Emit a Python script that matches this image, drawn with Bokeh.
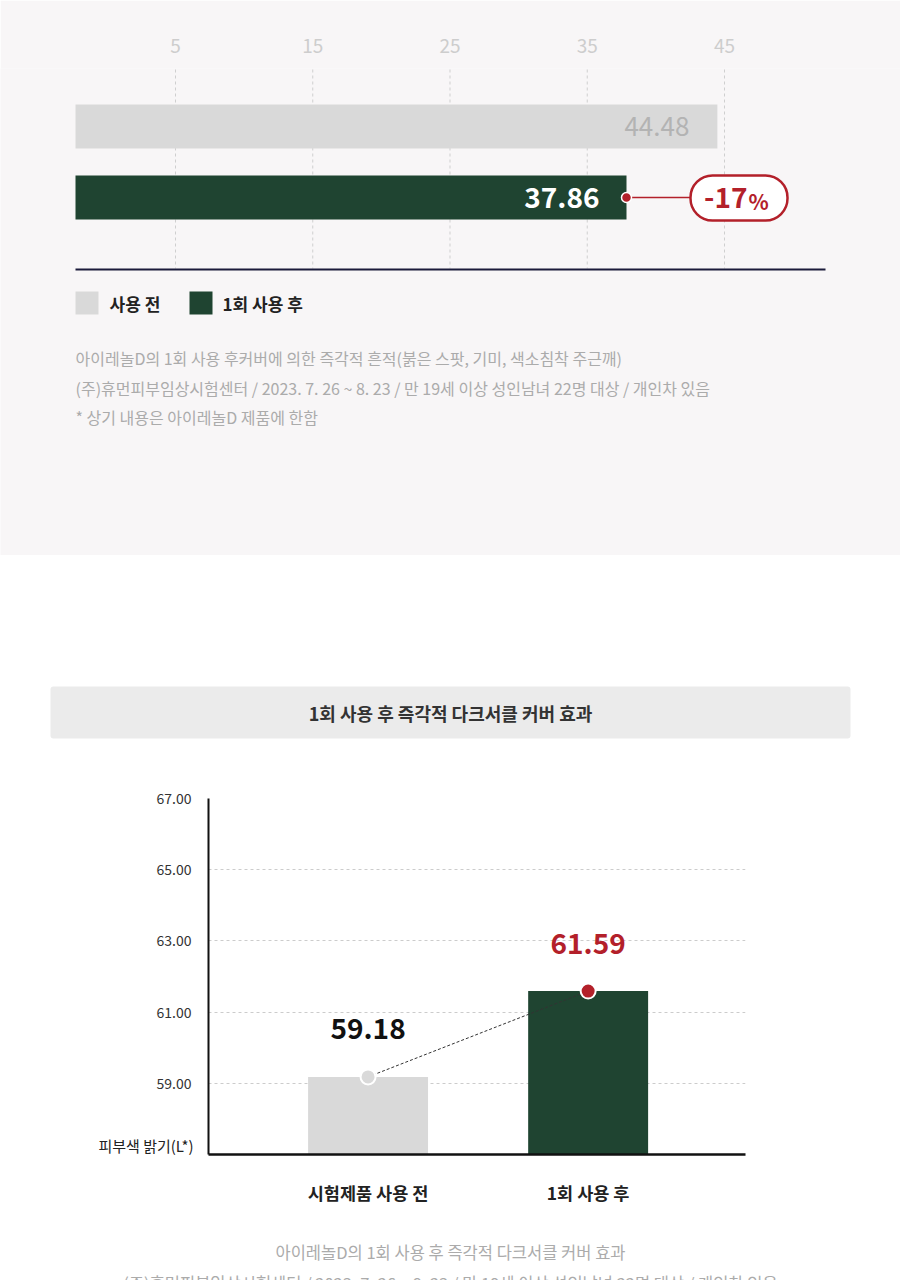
from bokeh.plotting import figure
from bokeh.models import (Range1d, LinearAxis, FixedTicker, LinearScale,
                          NumeralTickFormatter, ColumnDataSource, Label)
from bokeh.core.properties import value
from bokeh.embed import file_html
from bokeh.resources import INLINE

FONT = "Noto Sans CJK KR"

# ---------------- data: top chart ----------------
top_categories = ["사용 전", "1회 사용 후"]
top_values = [44.48, 37.86]
top_value_labels = ["44.48", "37.86"]
top_ticks = [5, 15, 25, 35, 45]
change_label = "-17"
change_unit = "%"
top_notes = [
    "아이레놀D의 1회 사용 후커버에 의한 즉각적 흔적(붉은 스팟, 기미, 색소침착 주근깨)",
    "(주)휴먼피부임상시험센터 / 2023. 7. 26 ~ 8. 23 / 만 19세 이상 성인남녀 22명 대상 / 개인차 있음",
    "* 상기 내용은 아이레놀D 제품에 한함",
]

# ---------------- data: bottom chart ----------------
bottom_title = "1회 사용 후 즉각적 다크서클 커버 효과"
bottom_categories = ["시험제품 사용 전", "1회 사용 후"]
bottom_values = [59.18, 61.59]
bottom_value_labels = ["59.18", "61.59"]
bottom_ticks = [59, 61, 63, 65, 67]
bottom_axis_title = "피부색 밝기(L*)"
bottom_notes = [
    "아이레놀D의 1회 사용 후 즉각적 다크서클 커버 효과",
    "(주)휴먼피부임상시험센터 / 2023. 7. 26 ~ 8. 23 / 만 19세 이상 성인남녀 22명 대상 / 개인차 있음",
]

# ---------------- styles ----------------
GRAY_BAR = "#d9d9d9"
GREEN = "#1f4431"
RED = "#b3202a"
TOP_BG = "#f8f6f7"
NOTE = "#ababab"

W = 900


def plain_fig(y_top, y_bot, bg="white"):
    """A full-frame figure whose data coordinates equal page pixels."""
    f = figure(width=W, height=y_bot - y_top,
               x_range=Range1d(0, W), y_range=Range1d(y_bot, y_top),
               output_backend="svg", toolbar_location=None,
               min_border=0, x_axis_location=None, y_axis_location=None)
    f.background_fill_color = bg
    f.border_fill_color = bg
    f.outline_line_color = None
    f.xgrid.visible = False
    f.ygrid.visible = False
    return f


# ================= Figure A (top section) =================
A_H = 555
A_TOP = 68
PX_FIRST, PX_LAST = 175, 724
ppu = (PX_LAST - PX_FIRST) / (top_ticks[-1] - top_ticks[0])


def px_to_val(px):
    return top_ticks[0] + (px - PX_FIRST) / ppu


pa = figure(width=W, height=A_H,
            x_range=Range1d(px_to_val(0), px_to_val(W)),
            y_range=Range1d(A_H, A_TOP),
            output_backend="svg", toolbar_location=None,
            min_border_left=0, min_border_right=0, min_border_bottom=0,
            min_border_top=A_TOP,
            x_axis_location=None, y_axis_location=None)
pa.extra_x_ranges = {"px": Range1d(0, W)}
pa.extra_x_scales = {"px": LinearScale()}
pa.background_fill_color = TOP_BG
pa.border_fill_color = TOP_BG
pa.outline_line_color = None
pa.xgrid.visible = False
pa.ygrid.visible = False

ax = LinearAxis(ticker=FixedTicker(ticks=top_ticks))
ax.axis_line_color = None
ax.major_tick_line_color = None
ax.minor_tick_line_color = None
ax.major_label_text_color = "#cdcdcd"
ax.major_label_text_font = FONT
ax.major_label_text_font_size = "19px"
ax.major_label_standoff = 10
pa.add_layout(ax, "above")

pa.segment(x0=top_ticks, y0=[A_TOP + 1] * len(top_ticks),
           x1=top_ticks, y1=[268] * len(top_ticks),
           line_color="#cfcfcf", line_width=1, line_dash="3 3")

row_y = [126, 197]
bar_colors = [GRAY_BAR, GREEN]
src_a = ColumnDataSource(dict(cat=top_categories, val=top_values,
                              lab=top_value_labels, y=row_y, color=bar_colors))
pa.hbar(y="y", left=px_to_val(75), right="val", height=44,
        fill_color="color", line_color=None, source=src_a)

pa.text(x=[top_values[0]], y=[row_y[0]], text=[top_value_labels[0]],
        x_offset=-28, text_align="right", text_baseline="middle",
        text_font=value(FONT), text_font_size="26px", text_color="#b3b3b3")
pa.text(x=[top_values[1]], y=[row_y[1]], text=[top_value_labels[1]],
        x_offset=-27, text_align="right", text_baseline="middle",
        text_font=value(FONT), text_font_size="28px", text_font_style="bold",
        text_color="white")

pa.segment(x0=[top_values[1]], y0=[row_y[1]], x1=[px_to_val(690)], y1=[row_y[1]],
           line_color=RED, line_width=1.5)
pa.scatter(x=[top_values[1]], y=[row_y[1]], size=10, fill_color=RED,
           line_color="white", line_width=1.5)
pa.quad(left=[690], right=[787], top=[175], bottom=[220], x_range_name="px",
        fill_color="white", line_color=RED, line_width=2.5, border_radius=22)
pa.text(x=[747], y=[197], text=[change_label], x_range_name="px",
        text_align="right", text_baseline="middle",
        text_font=value(FONT), text_font_size="28px", text_font_style="bold",
        text_color=RED)
pa.text(x=[748], y=[200], text=[change_unit], x_range_name="px",
        text_align="left", text_baseline="middle",
        text_font=value(FONT), text_font_size="21px", text_font_style="bold",
        text_color=RED)

pa.segment(x0=[75], y0=[269], x1=[825], y1=[269], x_range_name="px",
           line_color="#1b1b3b", line_width=2)

pa.quad(left=[75, 189], right=[98, 212], top=[291, 291], bottom=[314, 314],
        x_range_name="px", fill_color=bar_colors, line_color=None)
pa.text(x=[109, 222], y=[303, 303], text=top_categories, x_range_name="px",
        text_align="left", text_baseline="middle",
        text_font=value(FONT), text_font_size="17px", text_font_style="bold",
        text_color="#222222")

pa.text(x=[75] * len(top_notes), y=[357, 387, 416], text=top_notes,
        x_range_name="px", text_align="left", text_baseline="middle",
        text_font=value(FONT), text_font_size="16px", text_color=NOTE)

# ================= Figure B1 (title box) =================
B1_TOP, B1_BOT = 555, 780
pt = plain_fig(B1_TOP, B1_BOT)
pt.quad(left=[50], right=[850], top=[686], bottom=[738],
        fill_color="#ebebeb", line_color=None, border_radius=3)
pt.text(x=[450], y=[712], text=[bottom_title], text_align="center",
        text_baseline="middle", text_font=value(FONT), text_font_size="18px",
        text_font_style="bold", text_color="#333333")

# ================= Figure B2 (bar chart) =================
B2_TOP, B2_BOT = B1_BOT, 1215
F_TOP, F_BOT = 798, 1154
F_LEFT, F_RIGHT = 208, 745
cat_pos = list(range(len(bottom_categories)))

pb = figure(width=W, height=B2_BOT - B2_TOP,
            x_range=Range1d(-0.725, 1.715),
            y_range=Range1d(57, 67),
            output_backend="svg", toolbar_location=None,
            min_border_left=F_LEFT, min_border_right=W - F_RIGHT,
            min_border_top=F_TOP - B2_TOP, min_border_bottom=B2_BOT - F_BOT)
pb.extra_x_ranges = {"px": Range1d(F_LEFT, F_RIGHT)}
pb.extra_x_scales = {"px": LinearScale()}
pb.extra_y_ranges = {"py": Range1d(F_BOT, F_TOP)}
pb.extra_y_scales = {"py": LinearScale()}
pb.background_fill_color = "white"
pb.border_fill_color = "white"
pb.outline_line_color = None

pb.yaxis.ticker = FixedTicker(ticks=bottom_ticks)
pb.yaxis.formatter = NumeralTickFormatter(format="0.00")
pb.yaxis.major_tick_line_color = None
pb.yaxis.minor_tick_line_color = None
pb.yaxis.axis_line_color = "#111111"
pb.yaxis.axis_line_width = 2
pb.yaxis.major_label_text_font = FONT
pb.yaxis.major_label_text_font_size = "14px"
pb.yaxis.major_label_text_color = "#333333"
pb.yaxis.major_label_standoff = 11

pb.xaxis.ticker = FixedTicker(ticks=cat_pos)
pb.xaxis.major_label_overrides = {i: c for i, c in zip(cat_pos, bottom_categories)}
pb.xaxis.major_tick_line_color = None
pb.xaxis.minor_tick_line_color = None
pb.xaxis.axis_line_color = "#111111"
pb.xaxis.axis_line_width = 2.5
pb.xaxis.major_label_text_font = FONT
pb.xaxis.major_label_text_font_size = "17.5px"
pb.xaxis.major_label_text_font_style = "bold"
pb.xaxis.major_label_text_color = "#222222"
pb.xaxis.major_label_standoff = 19

pb.xgrid.visible = False
pb.ygrid.ticker = FixedTicker(ticks=bottom_ticks)
pb.ygrid.grid_line_color = "#cccccc"
pb.ygrid.grid_line_dash = "3 3"
pb.ygrid.grid_line_width = 1

src_b = ColumnDataSource(dict(x=cat_pos, cat=bottom_categories, val=bottom_values,
                              lab=bottom_value_labels, color=bar_colors,
                              dot=[GRAY_BAR, RED], tcolor=["#111111", RED]))
pb.vbar(x="x", top="val", bottom=pb.y_range.start, width=0.545,
        fill_color="color", line_color=None, source=src_b)
pb.line(x="x", y="val", line_color="#333333", line_width=1,
        line_dash="3 2", source=src_b)
pb.scatter(x="x", y="val", size=15, fill_color="dot", line_color="white",
           line_width=2, source=src_b)
pb.text(x="x", y="val", text="lab", y_offset=-48, text_align="center",
        text_baseline="middle", text_font=value(FONT), text_font_size="28px",
        text_font_style="bold", text_color="tcolor", source=src_b)

# axis title, placed in the left side panel (not clipped to the frame)
pb.add_layout(Label(x=193, y=1145, x_range_name="px", y_range_name="py",
                    text=bottom_axis_title, text_align="right",
                    text_baseline="middle", text_font=FONT,
                    text_font_size="15px", text_color="#222222"), "left")

# ================= Figure B3 (notes) =================
B3_TOP, B3_BOT = B2_BOT, 1280
pn = plain_fig(B3_TOP, B3_BOT)
pn.text(x=[450, 450], y=[1251, 1282], text=bottom_notes, text_align="center",
        text_baseline="middle", text_font=value(FONT), text_font_size="16.5px",
        text_color=NOTE)

open("out.html", "w").write(file_html([pa, pt, pb, pn], INLINE))
